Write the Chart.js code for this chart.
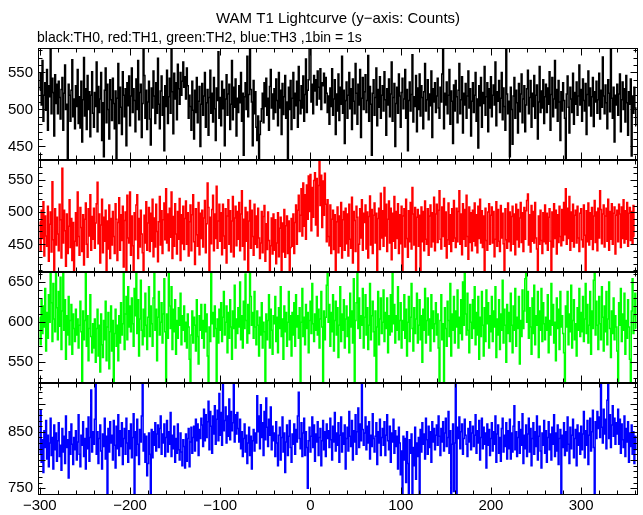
<!DOCTYPE html>
<html>
<head>
<meta charset="utf-8">
<script src="https://cdn.jsdelivr.net/npm/chart.js@4"></script>
<style>
  body { margin: 0; background: #fff; }
</style>
</head>
<body>
<canvas id="canvas" width="643" height="515"></canvas>
<script>
const titleText = 'WAM T1 Lightcurve (y\u2212axis: Counts)'
const subtitleText = 'black:TH0, red:TH1, green:TH2, blue:TH3 ,1bin = 1s'

// time of first bin (s), 1 bin = 1 s
const xStart = -300

// TH0 (black)
const th0Counts = [
  526,549,506,566,484,519,536,499,554,472,532,517,589,494,542,523,464,547,508,534,
  494,538,516,487,527,543,472,522,560,500,507,430,534,519,484,526,567,490,514,474,
  532,504,554,481,517,475,538,456,513,570,491,528,473,546,500,524,463,519,551,495,
  476,523,504,564,470,531,496,514,550,458,509,436,526,556,482,534,500,460,540,513,
  485,542,508,474,525,434,515,562,481,530,503,466,551,519,490,528,451,536,505,545,
  478,518,556,496,528,512,470,541,500,566,486,523,534,462,508,590,546,488,526,473,
  510,538,487,452,529,502,552,518,481,536,495,569,507,474,525,545,492,517,444,532,
  504,553,481,517,542,495,591,524,467,549,514,536,486,561,528,507,550,519,538,564,
  530,544,514,556,532,488,519,504,472,538,499,460,526,496,543,482,511,531,450,507,
  535,492,518,550,476,509,527,465,516,553,495,522,483,543,501,458,529,512,578,488,
  516,478,538,501,527,451,514,547,492,521,534,473,507,566,486,530,503,541,464,515,
  496,532,509,550,484,522,438,517,536,500,572,490,520,590,527,510,451,539,494,524,
  476,458,491,430,466,484,501,522,482,536,504,542,492,515,472,531,554,502,521,487,
  528,496,541,512,478,550,502,526,466,535,493,517,546,488,510,430,530,500,539,473,
  515,550,488,522,505,538,476,558,512,494,532,502,545,484,520,568,496,526,540,592,
  596,510,534,494,546,525,540,506,552,530,514,555,500,536,532,549,509,543,522,496,
  518,480,529,504,555,492,514,540,466,521,498,548,485,530,507,572,495,526,454,512,
  537,488,519,550,501,528,473,541,511,494,562,522,480,534,506,554,462,515,543,500,
  524,547,496,512,573,484,531,507,438,522,540,492,516,556,478,527,503,544,488,519,
  532,498,551,513,465,528,506,541,490,521,564,484,516,535,450,508,530,495,548,518,
  476,523,542,501,514,554,488,527,444,512,537,498,520,574,483,517,504,546,470,529,
  500,548,491,532,516,474,524,562,498,513,540,486,521,505,552,462,528,510,536,496,
  518,542,502,488,530,510,548,592,474,522,506,537,494,519,554,480,525,511,454,533,
  498,539,517,482,526,562,494,513,544,468,522,506,535,488,518,552,502,528,464,511,
  536,496,519,550,484,514,448,532,505,543,476,523,508,558,492,517,536,470,528,502,
  544,490,519,533,506,564,478,524,511,539,496,515,550,486,529,504,472,588,521,494,
  511,436,530,500,453,518,543,488,526,509,468,535,497,521,548,482,514,532,470,506,
  528,553,494,516,539,476,522,504,546,488,519,533,460,510,558,496,525,502,540,481,
  517,534,496,529,507,551,472,520,543,490,514,566,502,527,484,539,510,458,524,498,
  536,512,488,430,521,545,503,468,530,514,496,549,480,523,507,537,492,518,560,506,
  527,484,541,512,498,535,466,520,552,505,529,491,517,543,477,524,510,538,495,513,
  549,487,526,503,571,518,494,533,509,474,540,522,497,590,515,488,530,456,519,506,
  534,492,521,548,470,513,537,500,528,483,546,509,465,524,507,541,437,518,495,530,
  502,478
]

// TH1 (red)
const th1Counts = [
  485,441,503,459,516,432,494,463,447,509,424,481,500,438,547,457,405,505,449,492,
  466,440,512,488,429,568,452,503,471,416,497,436,478,519,445,490,425,484,409,455,
  499,448,531,462,433,507,476,439,496,418,489,514,450,430,505,463,527,441,493,458,
  506,444,483,513,546,451,497,421,480,520,437,492,455,503,407,486,443,511,428,490,
  449,501,462,436,513,489,425,484,522,441,496,456,509,415,487,500,406,526,460,452,
  531,433,494,448,404,499,457,511,527,428,490,446,503,466,437,409,495,452,516,441,
  483,507,439,498,455,520,431,491,446,512,470,423,485,524,449,502,436,488,514,457,
  536,452,497,440,506,461,531,428,493,447,513,466,435,501,458,521,425,496,451,509,
  442,490,517,450,499,432,485,511,440,496,527,454,419,505,465,447,515,434,498,459,
  503,446,491,518,437,482,545,507,405,492,451,504,526,440,497,459,540,444,486,512,
  455,499,434,512,463,444,505,421,494,519,450,502,438,486,524,431,491,509,448,501,
  458,515,440,497,533,447,489,426,507,455,500,406,486,518,444,503,462,433,512,450,
  494,445,506,460,428,452,501,437,493,510,424,482,442,500,456,405,448,491,435,497,
  441,488,420,452,499,431,475,492,404,483,438,504,430,479,494,436,486,407,445,490,
  447,497,436,484,511,450,503,526,470,495,536,463,545,478,527,458,542,489,556,501,
  558,471,538,492,549,561,480,552,463,541,583,510,557,476,548,495,560,512,454,519,
  462,448,511,436,489,503,442,496,407,485,508,437,494,447,515,429,488,501,441,506,
  451,497,432,512,458,444,523,421,501,487,439,509,492,408,450,505,460,519,441,498,
  484,511,443,500,429,493,525,449,504,436,495,514,452,498,406,490,506,442,529,460,
  502,447,538,463,512,439,489,517,452,506,426,498,455,524,444,501,459,513,436,496,
  451,509,405,494,505,446,520,459,430,502,454,515,443,538,497,449,507,409,492,504,
  447,495,406,508,454,501,440,517,458,450,505,433,494,511,446,499,454,523,440,497,
  512,453,503,533,458,443,508,462,521,447,500,429,457,514,450,496,439,505,455,518,
  460,445,506,454,501,533,450,497,434,513,458,504,447,526,462,427,508,453,499,440,
  503,455,514,448,496,437,509,459,520,452,502,445,494,406,506,456,441,500,513,450,
  495,508,452,501,431,458,516,447,504,455,439,510,460,498,451,404,505,457,444,514,
  454,500,440,493,509,450,497,434,512,457,504,446,491,515,453,499,439,507,458,502,
  518,528,449,496,438,510,455,501,452,515,460,443,407,494,450,503,456,436,499,454,
  511,451,498,441,492,505,455,406,500,446,513,459,503,435,496,453,509,462,448,504,
  456,515,465,536,450,506,459,524,441,500,455,512,446,495,503,452,509,460,439,498,
  505,457,446,511,464,407,502,454,514,449,499,458,507,442,494,518,453,500,440,506,
  460,533,504,451,497,511,446,494,506,455,520,441,501,458,513,450,498,508,435,495,
  503,454,512,497,445,508,459,519,452,502,458,515,447,498,507,456,501,450,510,462
]

// TH2 (green)
const th2Counts = [
  606,572,628,586,620,594,642,564,612,580,634,600,670,624,576,648,604,588,666,618,
  578,638,595,656,566,614,668,590,628,554,608,584,632,572,602,622,560,610,592,576,
  616,584,604,568,596,626,588,516,614,578,602,668,570,608,552,592,634,582,562,598,
  568,604,550,592,616,558,596,538,610,572,556,602,578,626,552,594,612,542,588,620,
  564,602,516,586,616,570,596,552,608,574,624,584,598,666,566,610,632,578,644,594,
  620,588,630,598,570,642,608,670,586,628,558,604,652,590,572,616,582,636,596,566,
  606,644,582,620,598,570,630,668,590,616,552,606,638,584,600,624,574,610,654,588,
  522,610,580,672,620,592,644,566,616,588,628,560,602,580,618,596,636,572,608,590,
  620,576,600,568,610,594,554,518,584,614,574,606,596,564,628,582,548,608,590,622,
  580,602,568,622,588,610,558,516,594,576,668,598,612,582,620,592,518,604,574,616,
  590,624,576,606,638,584,600,620,562,612,580,628,594,554,614,592,646,568,604,586,
  618,594,650,578,608,568,626,592,660,602,574,622,586,670,632,596,612,580,638,594,
  572,614,596,558,606,584,624,568,600,588,518,610,578,602,634,568,616,590,560,608,
  598,632,576,606,562,618,592,644,582,604,554,620,588,612,570,600,638,578,608,558,
  612,584,624,570,634,594,608,580,618,518,600,642,582,606,572,622,592,612,562,602,
  626,586,648,598,576,610,590,632,584,616,568,604,638,594,518,614,578,606,646,670,
  600,622,570,612,588,634,564,602,626,584,618,556,596,644,576,610,590,628,568,604,
  620,582,606,562,636,594,614,574,654,516,602,624,670,592,630,580,608,596,642,568,
  606,634,584,618,566,596,648,578,608,626,588,558,614,518,594,638,572,604,630,586,
  600,640,576,612,592,630,562,608,584,634,588,668,598,622,574,608,590,644,578,602,
  624,568,602,590,634,580,616,558,600,632,576,606,648,592,564,618,586,604,636,574,
  596,628,578,608,550,616,590,642,574,602,630,584,604,564,634,592,614,576,598,624,
  584,610,568,518,602,634,578,598,520,618,592,570,626,602,582,648,558,610,590,632,
  574,614,594,640,568,606,586,628,578,650,596,670,610,584,636,590,562,622,600,580,
  628,592,644,572,612,584,632,554,606,582,638,596,558,618,576,640,598,624,568,608,
  588,632,576,614,594,644,556,604,584,628,566,610,590,652,574,616,596,550,622,586,
  612,576,636,596,562,620,590,642,570,606,592,632,548,602,582,640,592,614,654,670,
  600,638,580,618,594,560,630,586,646,572,608,596,638,556,614,590,642,576,624,598,
  578,606,590,634,562,602,584,648,596,622,574,600,552,630,592,616,566,638,594,608,
  586,562,518,620,594,638,572,610,588,646,568,602,628,578,598,558,618,590,642,582,
  612,588,632,576,604,648,586,622,574,596,638,560,614,592,652,670,584,626,596,566,
  632,598,578,644,606,564,620,588,638,572,604,650,592,556,614,586,630,578,608,594,
  564,518,624,596,642,576,610,590,636,560,602,580,628,594,554,520,614,654,586,608,
  636,592
]

// TH3 (blue)
const th3Counts = [
  812,888,796,836,778,852,822,870,802,844,788,830,874,808,840,784,862,818,848,798,
  834,866,806,826,782,856,814,842,794,878,822,836,768,850,810,864,828,792,840,818,
  852,800,832,880,810,788,844,826,868,806,838,784,856,820,876,798,840,924,814,850,
  828,872,942,810,850,794,838,862,816,784,846,824,874,802,842,736,856,814,868,830,
  844,800,870,826,786,860,820,880,808,852,824,866,792,838,856,810,874,830,796,852,
  820,864,804,840,882,736,850,808,872,828,792,854,832,878,944,816,846,796,842,772,
  794,848,810,738,854,804,850,826,866,816,846,862,822,856,878,810,846,830,864,806,
  840,870,814,850,828,884,806,844,820,860,796,838,812,864,818,800,848,814,790,836,
  824,786,846,798,838,856,788,832,858,812,840,860,816,872,834,864,808,854,838,874,
  862,824,890,834,880,840,868,904,818,886,860,812,878,846,896,828,872,888,834,918,
  844,884,826,940,852,870,894,830,878,842,908,836,886,852,866,936,832,880,846,884,
  856,832,872,820,850,806,838,864,814,844,794,830,858,808,842,784,834,854,816,848,
  830,914,850,878,820,898,840,866,808,886,836,910,858,824,872,844,894,818,860,834,
  848,806,868,830,790,844,858,800,840,876,814,848,778,832,862,808,842,870,822,796,
  846,828,864,810,854,832,878,920,838,820,866,806,848,874,808,850,822,750,834,858,
  814,842,876,822,862,798,846,832,868,808,840,856,790,834,870,818,850,806,864,838,
  852,822,874,836,800,860,832,884,816,848,826,866,796,844,876,814,848,828,862,784,
  838,858,816,886,842,824,870,800,852,832,880,810,850,892,822,864,834,946,854,826,
  848,876,818,860,830,868,802,844,824,882,838,814,842,866,792,850,830,872,808,840,
  856,826,868,808,844,880,834,818,860,796,848,832,872,812,852,824,842,784,858,830,
  774,816,738,842,800,838,760,850,794,738,836,812,846,738,822,790,858,766,830,806,
  840,738,854,814,866,828,846,802,874,836,810,860,822,850,796,868,832,856,818,844,
  862,826,878,842,808,856,832,868,816,848,874,824,840,886,812,852,738,828,864,744,
  830,944,738,858,838,876,820,850,864,810,838,872,844,828,806,856,832,868,818,848,
  860,824,844,880,812,852,830,870,800,840,874,820,858,828,848,786,864,826,854,808,
  838,866,816,850,828,878,796,846,862,812,840,798,856,874,814,844,824,866,802,852,
  820,872,802,848,814,860,896,818,850,806,840,868,812,854,826,882,794,844,820,862,
  806,846,874,814,856,790,838,866,810,850,824,878,800,842,860,816,786,848,826,870,
  812,852,796,840,868,818,846,800,858,828,880,806,848,816,862,792,838,854,738,844,
  822,866,808,850,816,876,828,794,858,820,844,872,804,838,854,790,862,826,848,810,
  860,818,846,886,804,852,826,870,792,844,874,816,850,888,822,738,868,838,886,856,
  876,840,944,858,830,890,846,872,820,906,944,838,880,822,862,896,842,874,828,866,
  846,890,828,872,812,864,836,822,878,806,856,832,868,796,848,824,862,810,850,794,
  842,818
]

// axis limits and tick labels
const xRange = [-302, 363]
const xTickValues = [-300, -200, -100, 0, 100, 200, 300]
const th0Range = [432, 583]
const th0Ticks = [450, 500, 550]
const th1Range = [408, 581]
const th1Ticks = [450, 500, 550]
const th2Range = [524, 663]
const th2Ticks = [550, 600, 650]
const th3Range = [738, 936]
const th3Ticks = [750, 800, 850, 900]

const fontFamily = '"Liberation Sans", Arial, Helvetica, sans-serif'
Chart.defaults.font.family = fontFamily

const toPoints = (counts) => counts.map((v, i) => ({ x: xStart + i, y: v }))
const minusSign = (v) => String(v).replace('-', '\u2212')

const panels = [
  { id: 'y0', counts: th0Counts, range: th0Range, ticks: th0Ticks, color: '#000000', weight: 4 },
  { id: 'y1', counts: th1Counts, range: th1Range, ticks: th1Ticks, color: '#ff0000', weight: 3 },
  { id: 'y2', counts: th2Counts, range: th2Range, ticks: th2Ticks, color: '#00ff00', weight: 2 },
  { id: 'y3', counts: th3Counts, range: th3Range, ticks: th3Ticks, color: '#0000ff', weight: 1 }
]

const scales = {
  x: {
    type: 'linear',
    position: 'bottom',
    min: xRange[0],
    max: xRange[1],
    grid: { display: false, drawTicks: false },
    border: { display: false },
    afterBuildTicks: (axis) => { axis.ticks = xTickValues.map(value => ({ value })) },
    afterFit: (axis) => { axis.height = 20 },
    ticks: {
      color: '#000',
      padding: 2,
      maxRotation: 0,
      autoSkip: false,
      font: { size: 15 },
      callback: minusSign
    }
  }
}

panels.forEach(p => {
  scales[p.id] = {
    type: 'linear',
    position: 'left',
    stack: 'panels',
    stackWeight: 1,
    weight: p.weight,
    min: p.range[0],
    max: p.range[1],
    grid: { display: false, drawTicks: false },
    border: { display: false },
    afterBuildTicks: (axis) => { axis.ticks = p.ticks.map(value => ({ value })) },
    afterFit: (axis) => { axis.width = 38 },
    ticks: { color: '#000', padding: 5, font: { size: 15 } }
  }
})

// frames, inward ticks, per-panel clipping and the two title lines
const panelFrames = {
  id: 'panelFrames',
  beforeDatasetDraw(chart, args) {
    const s = chart.scales[args.meta.yAxisID]
    const a = chart.chartArea
    chart.ctx.save()
    chart.ctx.beginPath()
    chart.ctx.rect(a.left, s.top, a.right - a.left, s.bottom - s.top)
    chart.ctx.clip()
  },
  afterDatasetDraw(chart) {
    chart.ctx.restore()
  },
  afterDraw(chart) {
    const ctx = chart.ctx
    const a = chart.chartArea
    const xs = chart.scales.x
    ctx.save()
    ctx.strokeStyle = '#000'
    ctx.lineWidth = 1
    panels.forEach(p => {
      const s = chart.scales[p.id]
      const top = Math.round(s.top) + 0.5
      const bottom = Math.round(s.bottom) - 0.5
      const left = Math.round(a.left) + 0.5
      const right = Math.round(a.right) - 0.5
      ctx.strokeRect(left, top, right - left, bottom - top)
      ctx.beginPath()
      for (let v = -300; v <= xRange[1]; v += 20) {
        const px = Math.round(xs.getPixelForValue(v)) + 0.5
        const len = v % 100 === 0 ? 7 : 4
        ctx.moveTo(px, top); ctx.lineTo(px, top + len)
        ctx.moveTo(px, bottom); ctx.lineTo(px, bottom - len)
      }
      for (let v = Math.ceil(s.min / 10) * 10; v <= s.max; v += 10) {
        const py = Math.round(s.getPixelForValue(v)) + 0.5
        const len = v % 50 === 0 ? 7 : 4
        ctx.moveTo(left, py); ctx.lineTo(left + len, py)
        ctx.moveTo(right, py); ctx.lineTo(right - len, py)
      }
      ctx.stroke()
    })
    ctx.fillStyle = '#000'
    ctx.textBaseline = 'alphabetic'
    ctx.font = '15px ' + fontFamily
    ctx.textAlign = 'center'
    ctx.fillText(titleText, (a.left + a.right) / 2, 23)
    ctx.font = '14px ' + fontFamily
    ctx.textAlign = 'left'
    ctx.fillText(subtitleText, a.left - 1, 42)
    ctx.restore()
  }
}

const ctx = document.getElementById('canvas').getContext('2d')

const chart = new Chart(ctx, {
  type: 'line',
  data: {
    datasets: panels.map(p => ({
      label: p.id,
      data: toPoints(p.counts),
      yAxisID: p.id,
      borderColor: p.color,
      backgroundColor: p.color,
      borderWidth: 1.5,
      pointRadius: 0,
      stepped: 'middle',
      fill: false
    }))
  },
  options: {
    responsive: false,
    animation: false,
    parsing: false,
    layout: { padding: { top: 48, right: 5, left: 0, bottom: 0 } },
    plugins: {
      legend: { display: false },
      tooltip: { enabled: false }
    },
    scales: scales
  },
  plugins: [panelFrames]
})
</script>
</body>
</html>
